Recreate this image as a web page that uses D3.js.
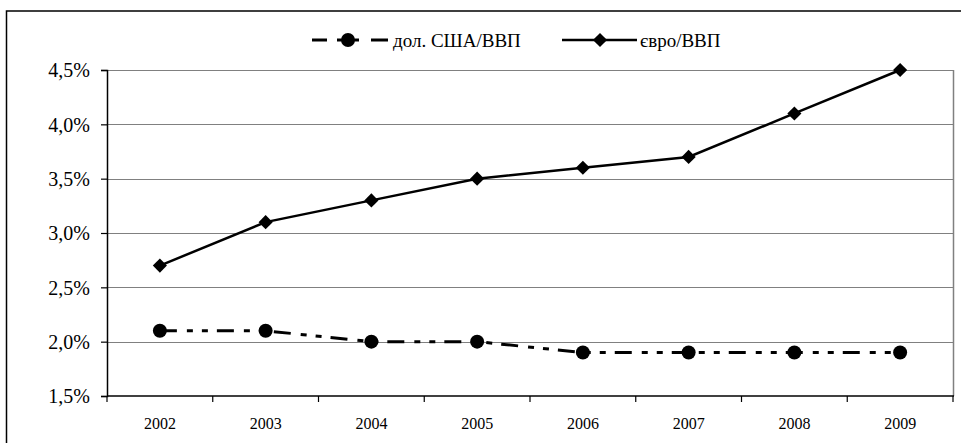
<!DOCTYPE html>
<html>
<head>
<meta charset="utf-8">
<script src="https://cdn.jsdelivr.net/npm/d3@7"></script>
<style>
  html, body { margin: 0; padding: 0; background: #fff; }
  svg { display: block; }
</style>
</head>
<body>
<svg id="chart" width="961" height="443"></svg>
<script>
// Years on the category axis
const years = ["2002", "2003", "2004", "2005", "2006", "2007", "2008", "2009"];
// Share of GDP, percent
const usdGdp = [2.1, 2.1, 2.0, 2.0, 1.9, 1.9, 1.9, 1.9];
const euroGdp = [2.7, 3.1, 3.3, 3.5, 3.6, 3.7, 4.1, 4.5];
// Value axis ticks
const yTicks = [1.5, 2.0, 2.5, 3.0, 3.5, 4.0, 4.5];
const seriesNames = ["дол. США/ВВП", "євро/ВВП"];

const FONT = "'Liberation Serif', 'Times New Roman', serif";

const svg = d3.select("#chart").attr("font-family", FONT);
const plot = { left: 107, right: 953, top: 70, bottom: 396 };

// outer frame (runs past the bottom/right edges of the view)
svg.append("rect")
  .attr("x", 6.5).attr("y", 11).attr("width", 970).attr("height", 450)
  .attr("fill", "none").attr("stroke", "#000").attr("stroke-width", 1.5);

const x = d3.scaleBand().domain(years).range([plot.left, plot.right]).padding(0);
const y = d3.scaleLinear().domain([1.5, 4.5]).range([plot.bottom, plot.top]);
const fmt = v => d3.format(".1f")(v).replace(".", ",") + "%";

// gridlines
svg.append("g").selectAll("line").data(yTicks.filter(t => t > 1.5)).join("line")
  .attr("x1", plot.left).attr("x2", plot.right)
  .attr("y1", d => Math.round(y(d)) + 0.5).attr("y2", d => Math.round(y(d)) + 0.5)
  .attr("stroke", "#808080").attr("stroke-width", 1.2);
// right border of plot area
svg.append("line")
  .attr("x1", plot.right + 0.5).attr("x2", plot.right + 0.5)
  .attr("y1", plot.top).attr("y2", plot.bottom)
  .attr("stroke", "#808080").attr("stroke-width", 1.5);

// y axis
const yAxis = svg.append("g")
  .attr("transform", `translate(${plot.left},0)`)
  .call(d3.axisLeft(y).tickValues(yTicks).tickFormat(fmt).tickSize(6).tickPadding(11));
yAxis.attr("font-family", FONT).attr("font-size", 20);
yAxis.select(".domain").attr("stroke", "#000").attr("stroke-width", 1.5);
yAxis.selectAll(".tick line").attr("stroke", "#000").attr("stroke-width", 1.2);
yAxis.selectAll(".tick text").attr("fill", "#000").attr("dy", "0.34em");

// x axis with ticks at category boundaries
const xAxisG = svg.append("g").attr("transform", `translate(0,${plot.bottom})`);
xAxisG.append("line")
  .attr("x1", plot.left).attr("x2", plot.right + 1)
  .attr("stroke", "#000").attr("stroke-width", 1.5);
xAxisG.selectAll("line.tk").data(years.concat(["end"])).join("line")
  .attr("class", "tk")
  .attr("x1", (d, i) => x.range()[0] + i * x.step())
  .attr("x2", (d, i) => x.range()[0] + i * x.step())
  .attr("y1", 0).attr("y2", 6)
  .attr("stroke", "#000").attr("stroke-width", 1.2);
xAxisG.selectAll("text").data(years).join("text")
  .attr("x", d => x(d) + x.bandwidth() / 2)
  .attr("y", 33)
  .attr("text-anchor", "middle")
  .attr("font-family", FONT)
  .attr("font-size", 16)
  .text(d => d);

const cx = d => x(d) + x.bandwidth() / 2;
const dashDotDot = "17,10,6,9,6,9";

// USD series: dash-dot-dot line with circles
svg.append("path")
  .datum(usdGdp)
  .attr("fill", "none").attr("stroke", "#000").attr("stroke-width", 3)
  .attr("stroke-dasharray", dashDotDot)
  .attr("d", d3.line().x((d, i) => cx(years[i])).y(d => y(d)));
svg.append("g").selectAll("circle").data(usdGdp).join("circle")
  .attr("cx", (d, i) => cx(years[i])).attr("cy", d => y(d)).attr("r", 7)
  .attr("fill", "#000");

// Euro series: solid line with diamonds
svg.append("path")
  .datum(euroGdp)
  .attr("fill", "none").attr("stroke", "#000").attr("stroke-width", 2.5)
  .attr("d", d3.line().x((d, i) => cx(years[i])).y(d => y(d)));
const diamond = d3.symbol().type(d3.symbolSquare).size(100);
svg.append("g").selectAll("path").data(euroGdp).join("path")
  .attr("d", diamond)
  .attr("transform", (d, i) => `translate(${cx(years[i])},${y(d)}) rotate(45)`)
  .attr("fill", "#000");

// legend
const lg = svg.append("g").attr("font-family", FONT).attr("font-size", 19);
const ly = 40;
lg.append("line").attr("x1", 312).attr("x2", 327).attr("y1", ly).attr("y2", ly)
  .attr("stroke", "#000").attr("stroke-width", 3);
lg.append("line").attr("x1", 337).attr("x2", 359).attr("y1", ly).attr("y2", ly)
  .attr("stroke", "#000").attr("stroke-width", 3);
lg.append("line").attr("x1", 371).attr("x2", 388).attr("y1", ly).attr("y2", ly)
  .attr("stroke", "#000").attr("stroke-width", 3);
lg.append("circle").attr("cx", 348).attr("cy", ly).attr("r", 7).attr("fill", "#000");
lg.append("text").attr("x", 393).attr("y", ly + 7).text(seriesNames[0]);

lg.append("line").attr("x1", 562).attr("x2", 637).attr("y1", ly).attr("y2", ly)
  .attr("stroke", "#000").attr("stroke-width", 2.5);
lg.append("path").attr("d", diamond)
  .attr("transform", `translate(600,${ly}) rotate(45)`).attr("fill", "#000");
lg.append("text").attr("x", 640).attr("y", ly + 7).text(seriesNames[1]);
</script>
</body>
</html>
